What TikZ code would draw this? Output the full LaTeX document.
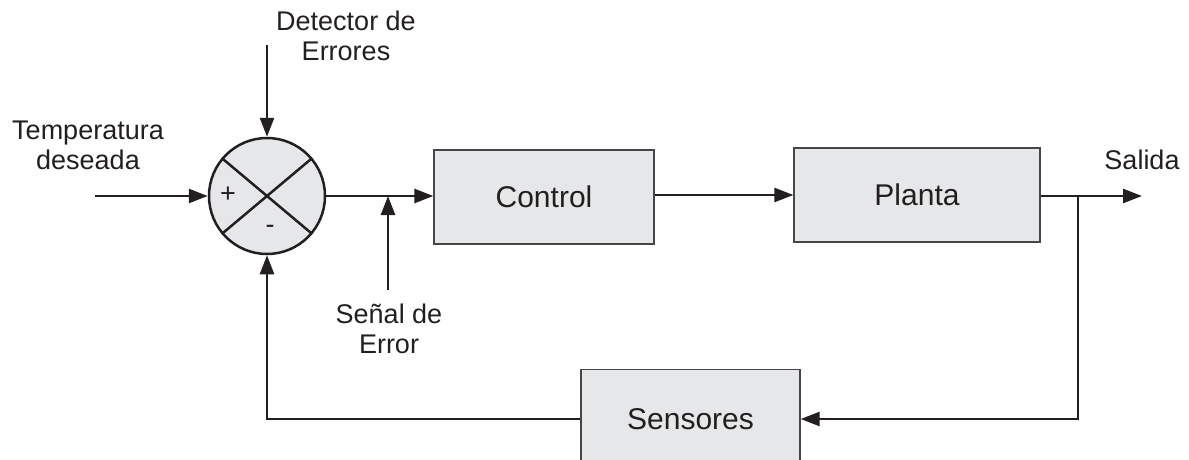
\documentclass[tikz,border=0pt]{standalone}
\usepackage{fontspec}
\setmainfont{Liberation Sans}
\usetikzlibrary{arrows.meta,calc}
\definecolor{ink}{RGB}{35,31,32}
\definecolor{boxgray}{RGB}{230,231,232}
\definecolor{edgegray}{RGB}{70,70,70}
\tikzset{
  block/.style={draw=edgegray, line width=1.3pt, fill=boxgray, rectangle,
    inner sep=0pt, font=\fontsize{30}{34}\selectfont, text=ink},
  sumnode/.style={draw=ink, line width=2.5pt, fill=boxgray, circle,
    minimum size=116pt, inner sep=0pt},
  conn/.style={draw=ink, line width=2.5pt,
    -{Triangle[length=19pt,width=14pt]}},
  wire/.style={draw=ink, line width=2.5pt},
  lbl/.style={align=center, font=\fontsize{27}{30}\selectfont, text=ink,
    inner sep=0pt},
  sign/.style={font=\fontsize{27}{30}\selectfont, text=ink, inner sep=0pt}
}
\begin{document}
\begin{tikzpicture}[x=1pt,y=-1pt]
\useasboundingbox (0,0) rectangle (1189,460);

% summing junction
\node[sumnode] (sum) at (267,196) {};
\draw[wire] (sum.140) -- (sum.-40);
\draw[wire] (sum.40) -- (sum.220);
\node[sign] (plus) at (228,195) {+};
\node[sign] (minus) at (270,229) {-};

% blocks
\node[block, minimum width=220pt, minimum height=94pt] (ctrl) at (544,197) {Control};
\node[block, minimum width=246pt, minimum height=94pt] (plant) at (917,195) {Planta};
\node[block, minimum width=219pt, minimum height=100pt, anchor=north] (sens) at (690.5,369) {};
\node[font=\fontsize{30}{34}\selectfont, text=ink] (senstext) at (690.5,419) {Sensores};

% labels
\node[lbl] (temp) at (88,145) {Temperatura\\deseada};
\node[lbl] (det) at (346,36) {Detector de\\Errores};
\node[lbl] (senal) at (389,329) {Señal de\\Error};
\node[lbl] (salida) at (1142,160) {Salida};

% connector ends
\coordinate (in) at (95,196);
\coordinate (dtop) at (267,45);
\coordinate (sb) at (388,290);
\coordinate (j) at (388,196);
\coordinate (out) at (1142,196);
\coordinate (br) at (1078,196);

% connectors
\draw[conn] (in) -- (sum.west);
\draw[conn] (dtop) -- (sum.north);
\draw[conn] (sum.east) -- (ctrl.west |- sum.east);
\draw[conn] (ctrl.east |- plant.west) -- (plant.west);
\draw[conn] (plant.east |- out) -- (out);
\draw[conn] (br) |- (sens.east |- senstext);
\draw[conn] (sens.west |- senstext) -| (sum.south);
\draw[conn] (sb) -- (j);
\end{tikzpicture}
\end{document}
